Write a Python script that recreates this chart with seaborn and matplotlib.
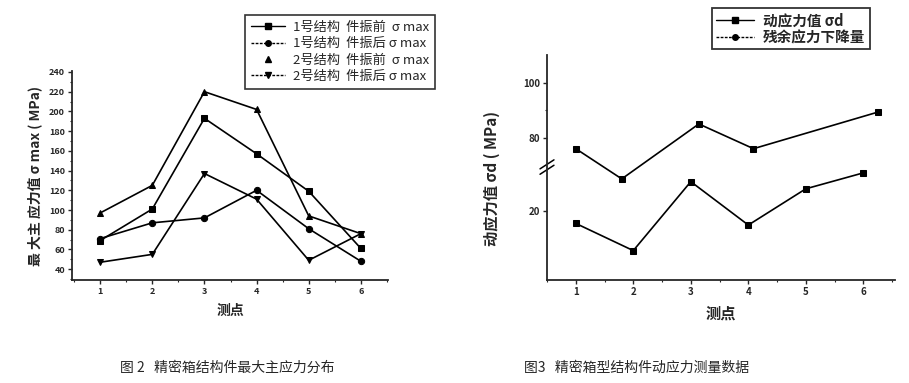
import numpy as np
import pandas as pd
import matplotlib
matplotlib.use("Agg")
import matplotlib.pyplot as plt
from matplotlib.lines import Line2D
from matplotlib.ticker import MultipleLocator
import seaborn as sns

# ---- data: figure 2 (max principal stress) ----
points = [1, 2, 3, 4, 5, 6]
s1_before = [69, 101, 193, 157, 119, 61]
s1_after = [71, 87, 92, 120, 81, 48]
s2_before = [97, 125, 220, 202, 94, 76]
s2_after = [47, 55, 137, 111, 49, 76]
left_labels = ["1号结构  件振前  σ max", "1号结构  件振后 σ max",
               "2号结构  件振前  σ max", "2号结构  件振后 σ max"]

# ---- data: figure 3 (dynamic stress) ----
dyn_x = [1, 1.8, 3.14, 4.09, 6.25]
dyn_y = [76, 65, 85, 76, 89.3]
drop_x = [1, 2, 3, 4, 5, 6]
drop_y = [15.5, 5.6, 30.7, 14.9, 28.1, 33.9]
right_labels = ["动应力值 σd", "残余应力下降量"]

sns.set_style("ticks")
plt.rcParams["font.family"] = ["Noto Sans CJK SC", "DejaVu Sans"]
plt.rcParams["xtick.direction"] = "out"
plt.rcParams["ytick.direction"] = "out"

fig = plt.figure(figsize=(9.09, 3.83), dpi=100)

# ---------------- left chart ----------------
ax1 = fig.add_axes([72 / 909, 103 / 383, 316 / 909, 209 / 383])
df1 = pd.DataFrame({"x": points * 4,
                    "y": s1_before + s1_after + s2_before + s2_after,
                    "s": sum([[l] * 6 for l in left_labels], [])})
markers = ["s", "o", "^", "v"]
for lab, m in zip(left_labels, markers):
    d = df1[df1.s == lab]
    sns.lineplot(data=d, x="x", y="y", ax=ax1, color="black", lw=1.2,
                 marker=m, markersize=4.5, markeredgecolor="black", legend=False)
ax1.set_xlim(0.46, 6.52)
ax1.set_ylim(29, 241)
ax1.set_xticks(points)
ax1.set_yticks(range(40, 241, 20))
ax1.xaxis.set_minor_locator(MultipleLocator(0.5))
ax1.yaxis.set_minor_locator(MultipleLocator(10))
ax1.tick_params(which="major", length=3, width=1, labelsize=6.5, pad=2)
ax1.tick_params(which="minor", length=1.5, width=0.8)
for t in ax1.get_xticklabels() + ax1.get_yticklabels():
    t.set_fontweight("bold")
for sp in ["top", "right"]:
    ax1.spines[sp].set_visible(False)
for sp in ["left", "bottom"]:
    ax1.spines[sp].set_linewidth(1.3)
ax1.set_xlabel("测点", fontsize=10, fontweight="bold", labelpad=6)
ax1.set_ylabel("最 大主 应力值 σ max ( MPa)", fontsize=10, fontweight="bold", labelpad=5)

h1 = [Line2D([], [], color="black", marker="s", markersize=4, lw=1),
      Line2D([], [], color="black", marker="o", markersize=4, lw=1, ls=(0, (2, 1))),
      Line2D([], [], color="black", marker="^", markersize=4, lw=0),
      Line2D([], [], color="black", marker="v", markersize=4, lw=1, ls=(0, (2, 1)))]
leg1 = fig.legend(h1, left_labels, loc="upper left", bbox_to_anchor=(245 / 909, 1 - 15 / 383),
                  borderaxespad=0, fontsize=9.5, frameon=True, fancybox=False, edgecolor="black",
                  handlelength=2.6, labelspacing=0.25, borderpad=0.45, handletextpad=0.6)
leg1.get_frame().set_linewidth(1.2)

# ---------------- right chart (broken axis) ----------------
gap = 33.3


def fwd(v):
    v = np.asarray(v, dtype=float)
    return np.where(v > 50, v - gap, v)


def inv(u):
    u = np.asarray(u, dtype=float)
    return np.where(u > 36, u + gap, u)


ax2 = fig.add_axes([547 / 909, 103 / 383, 348 / 909, 225 / 383])
ax2.set_yscale("function", functions=(fwd, inv))
sns.lineplot(x=dyn_x, y=dyn_y, ax=ax2, color="black", lw=1.2, marker="s",
             markersize=4.5, markeredgecolor="black", legend=False)
sns.lineplot(x=drop_x, y=drop_y, ax=ax2, color="black", lw=1.2, marker="s",
             markersize=4.5, markeredgecolor="black", legend=False)
ax2.set_xlim(0.5, 6.55)
ax2.set_ylim(-5.1, 110.1)
ax2.set_xticks(drop_x)
ax2.set_yticks([20, 80, 100])
ax2.set_yticks([90], minor=True)
ax2.xaxis.set_minor_locator(MultipleLocator(0.5))
ax2.tick_params(which="major", length=3, width=1, labelsize=7, pad=2)
ax2.tick_params(which="minor", length=1.5, width=0.8)
for t in ax2.get_xticklabels() + ax2.get_yticklabels():
    t.set_fontweight("bold")
for sp in ["top", "right"]:
    ax2.spines[sp].set_visible(False)
for sp in ["left", "bottom"]:
    ax2.spines[sp].set_linewidth(1.3)
ax2.set_xlabel("测点", fontsize=11, fontweight="bold", labelpad=6)
ax2.set_ylabel("动应力值 σd ( MPa)", fontsize=11, fontweight="bold", labelpad=12)
ax2.yaxis.set_label_coords(-0.135, 0.45)

# break marks on the left spine
yb = 0.502
ax2.plot([-0.01, 0.01], [yb - 0.005, yb + 0.005], transform=ax2.transAxes,
         color="white", lw=3, clip_on=False, solid_capstyle="butt")
for dy in (-0.012, 0.012):
    ax2.plot([-0.02, 0.02], [yb + dy - 0.02, yb + dy + 0.02], transform=ax2.transAxes,
             color="black", lw=1.1, clip_on=False)

h2 = [Line2D([], [], color="black", marker="s", markersize=4, lw=1),
      Line2D([], [], color="black", marker="o", markersize=4, lw=1, ls=(0, (2, 1)))]
leg2 = fig.legend(h2, right_labels, loc="upper left", bbox_to_anchor=(712 / 909, 1 - 8 / 383),
                  borderaxespad=0, prop={"size": 10.5, "weight": "bold"}, frameon=True,
                  fancybox=False, edgecolor="black",
                  handlelength=2.6, labelspacing=0.05, borderpad=0.3, handletextpad=0.6)
leg2.get_frame().set_linewidth(1.3)

# captions
fig.text(120 / 909, 1 - 368 / 383, "图 2   精密箱结构件最大主应力分布", fontsize=10,
         va="center", ha="left", fontweight="light")
fig.text(524 / 909, 1 - 368 / 383, "图3   精密箱型结构件动应力测量数据", fontsize=10,
         va="center", ha="left", fontweight="light")

fig.savefig("out.png", dpi=100)
plt.close()
